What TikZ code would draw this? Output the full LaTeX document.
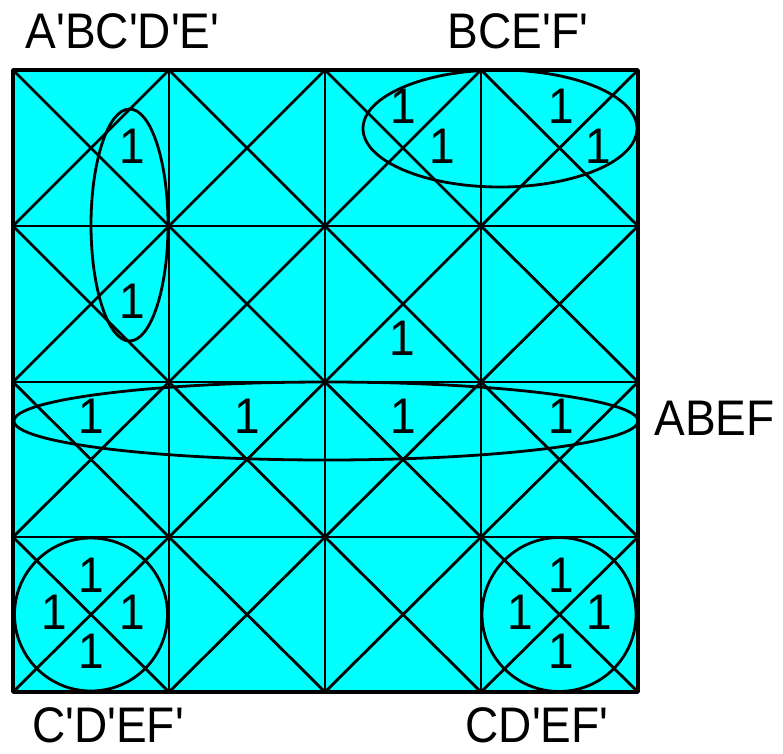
\documentclass[tikz,border=0pt]{standalone}
\usepackage{fontspec}
\newfontfamily\labfont{Liberation Sans}[FakeStretch=0.92]
\definecolor{kcyan}{RGB}{0,255,255}
\begin{document}
\begin{tikzpicture}[x=1pt,y=-1pt,line join=round,
  gridline/.style={line width=2.8pt,black},
  border/.style={line width=3.4pt,black},
  loop/.style={line width=2.8pt,black},
  one/.style={font=\labfont\fontsize{50}{50}\selectfont,inner sep=0pt},
  lab/.style={font=\labfont\fontsize{50}{50}\selectfont,inner sep=0pt,anchor=base}]
\useasboundingbox (0,0) rectangle (783,753);
\fill[kcyan] (13,70) rectangle (638,692);
% grid lines
\foreach \x in {169,325,481} \draw[gridline] (\x,70) -- (\x,692);
\foreach \y in {226,382,537} \draw[gridline] (13,\y) -- (638,\y);
% diagonals in every cell
\foreach \xa/\xb in {13/169,169/325,325/481,481/638}
  \foreach \ya/\yb in {70/226,226/382,382/537,537/692} {
    \draw[gridline] (\xa,\ya) -- (\xb,\yb);
    \draw[gridline] (\xb,\ya) -- (\xa,\yb);
  }
\draw[border] (13,70) rectangle (638,692);
% ones
\node[one] (o1) at (132,146.5) {1};
\node[one] (o2) at (132,301.5) {1};
\node[one] (o3) at (403,106.5) {1};
\node[one] (o4) at (442,146.5) {1};
\node[one] (o5) at (561,106.5) {1};
\node[one] (o6) at (598,146.5) {1};
\node[one] (o7) at (402,338.5) {1};
\node[one] (o8) at (91,416.5) {1};
\node[one] (o9) at (247,416.5) {1};
\node[one] (o10) at (403,416.5) {1};
\node[one] (o11) at (561,416.5) {1};
\node[one] (o12) at (91,575) {1};
\node[one] (o13) at (54,612.5) {1};
\node[one] (o14) at (132,612.5) {1};
\node[one] (o15) at (91,651.5) {1};
\node[one] (o16) at (561,575) {1};
\node[one] (o17) at (520,612.5) {1};
\node[one] (o18) at (599,612.5) {1};
\node[one] (o19) at (561,651.5) {1};
% loops
\draw[loop] (129.5,225) ellipse [x radius=38.5,y radius=116];
\draw[loop] (500,128.5) ellipse [x radius=137,y radius=58.5];
\draw[loop] (326,421) ellipse [x radius=312,y radius=39];
\draw[loop] (91,614.5) circle [radius=76.5];
\draw[loop] (559,614.5) circle [radius=77];
% labels
\node[lab] (l1) at (122.5,48) {A'BC'D'E'};
\node[lab] (l2) at (518,48) {BCE'F'};
\node[lab] (l3) at (714.5,435) {ABEF};
\node[lab] (l4) at (108,742) {C'D'EF'};
\node[lab] (l5) at (537,742) {CD'EF'};
\end{tikzpicture}
\end{document}
